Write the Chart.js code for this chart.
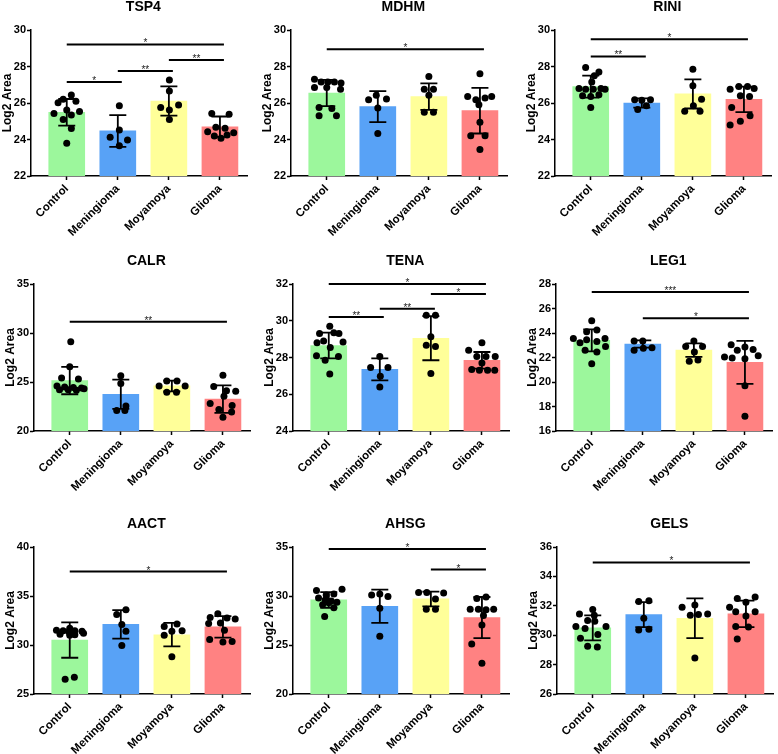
<!DOCTYPE html>
<html>
<head>
<meta charset="utf-8">
<script src="https://cdn.jsdelivr.net/npm/chart.js@4.4.1/dist/chart.umd.min.js"></script>
<style>
  html, body { margin: 0; padding: 0; background: #fff; width: 778px; height: 754px; overflow: hidden; position: relative; }
  canvas { position: absolute; }
</style>
</head>
<body>
<script>
// ---- data ----
const groups = ['Control', 'Meningioma', 'Moyamoya', 'Glioma'];
const proteins = ['TSP4', 'MDHM', 'RINI', 'CALR', 'TENA', 'LEG1', 'AACT', 'AHSG', 'GELS'];

const yMin  = [22, 22, 22, 20, 24, 16, 25, 20, 26];
const yMax  = [30, 30, 30, 35, 32, 28, 40, 35, 36];
const yStep = [2, 2, 2, 5, 2, 2, 5, 5, 2];

// mean and SD per group (Control, Meningioma, Moyamoya, Glioma)
const means = [
  [25.49, 24.47, 26.11, 24.7],
  [26.55, 25.8, 26.35, 25.58],
  [26.9, 26.0, 26.5, 26.2],
  [25.15, 23.75, 24.6, 23.25],
  [28.65, 27.35, 29.05, 27.85],
  [23.4, 23.1, 22.6, 21.6],
  [30.5, 32.1, 31.05, 31.85],
  [29.6, 28.95, 29.7, 27.8],
  [30.5, 31.4, 31.15, 31.45]
];
const sds = [
  [0.73, 0.87, 0.8, 0.56],
  [0.72, 0.85, 0.73, 1.25],
  [0.6, 0.25, 0.8, 0.7],
  [1.4, 1.5, 0.55, 1.4],
  [0.7, 0.6, 1.2, 0.45],
  [0.9, 0.3, 0.55, 1.75],
  [1.8, 1.45, 1.2, 1.1],
  [0.8, 1.7, 0.75, 2.1],
  [0.85, 0.85, 1.35, 0.9]
];

// individual samples: [horizontal scatter offset, value]
const samples = [
  [ // TSP4
    [[0.09,26.44],[-0.07,26.2],[-0.17,26.02],[0.18,26.1],[-0.25,25.43],[0.25,25.53],[0,25.62],[0.09,25.34],[-0.07,25.1],[0.09,24.6],[0,23.79]],
    [[0.03,25.85],[-0.15,24.12],[0.19,23.97],[0.03,24.52],[0.03,23.66]],
    [[0.01,27.26],[0.01,26.66],[-0.16,25.76],[0.19,25.89],[0.01,25.62],[0.01,25.1]],
    [[-0.16,25.43],[0.18,25.38],[-0.24,24.43],[-0.08,24.67],[0.1,24.61],[0.27,24.37],[-0.11,24.19],[0.02,24.07],[0.14,24.25]]
  ],
  [ // MDHM
    [[-0.24,27.3],[-0.11,27.15],[0.02,27.15],[0.15,27.15],[0.28,27.1],[-0.24,26.85],[0,26.85],[0.27,26.75],[-0.15,25.75],[0.1,25.7],[-0.15,25.3],[0.19,25.3]],
    [[-0.03,26.42],[-0.18,26.18],[0.17,26.22],[0,25.73],[0,24.33]],
    [[0,27.45],[-0.09,26.76],[0.09,26.76],[0,26.42],[-0.09,25.5],[0.09,25.5]],
    [[0,27.6],[-0.24,26.36],[-0.08,26.18],[0.1,26.27],[0.23,26.36],[-0.02,25.9],[0,24.95],[-0.18,24.2],[0.1,24.2],[0,23.45]]
  ],
  [ // RINI
    [[-0.1,27.95],[0.16,27.7],[0.07,27.5],[0.02,27.15],[-0.23,26.8],[-0.1,26.75],[0.05,26.75],[0.2,26.8],[0.28,26.75],[-0.16,26.4],[0,26.35],[0.16,26.45],[0,25.75]],
    [[-0.14,26.18],[0,26.15],[0.17,26.18],[-0.08,25.64],[0.09,25.85]],
    [[0,27.85],[0,26.95],[0.17,26.2],[0.01,25.85],[-0.16,25.55],[0.14,25.55]],
    [[-0.27,26.75],[-0.1,26.9],[0.07,26.9],[0.2,26.8],[-0.07,26.4],[0.11,26.35],[-0.24,25.75],[0.12,25.3],[-0.07,25.0],[-0.27,24.8]]
  ],
  [ // CALR
    [[0.02,29.1],[0,26.55],[-0.16,25.4],[0.17,25.3],[-0.25,24.6],[-0.1,24.5],[0.07,24.45],[0.23,24.4],[-0.2,24.2],[-0.03,24.2],[0.13,24.15],[0.28,24.3]],
    [[0,25.65],[0,24.85],[0.1,22.55],[-0.08,22.1],[0.08,22.1]],
    [[-0.1,25.1],[0.1,25.1],[-0.25,24.6],[0.26,24.6],[-0.1,23.95],[0.09,23.95]],
    [[0,25.7],[-0.18,24.55],[0.07,24.1],[0.25,24.05],[0.02,23.55],[-0.25,22.8],[0.18,22.6],[-0.08,22.2],[0.17,21.95],[0,21.4]]
  ],
  [ // TENA
    [[0.02,29.7],[-0.18,29.3],[0.1,29.35],[0.2,29.3],[-0.1,28.9],[-0.23,28.8],[0.28,28.85],[0.03,28.55],[-0.24,28.1],[0.19,28.05],[-0.07,27.85],[0.02,27.1]],
    [[0,28.05],[-0.18,27.45],[0.16,27.45],[0.01,26.98],[0,26.4]],
    [[-0.09,30.3],[0.09,30.3],[0,29.13],[-0.09,28.67],[0.09,28.6],[0,27.13]],
    [[0,28.8],[-0.26,28.4],[-0.1,28.05],[0.08,28.05],[0.26,28.05],[-0.2,27.35],[-0.05,27.3],[0.11,27.3],[0.25,27.3],[0,27.7]]
  ],
  [ // LEG1
    [[0,25.0],[0.1,24.25],[-0.1,24.1],[-0.36,23.55],[0.26,23.55],[-0.1,23.45],[-0.23,23.2],[0.1,23.3],[0.27,22.9],[-0.13,22.6],[0.1,22.45],[0,21.5]],
    [[-0.17,23.35],[0,23.35],[-0.17,22.6],[0.01,22.75],[0.18,22.8]],
    [[0,23.35],[-0.16,22.9],[0.17,22.9],[0.01,22.45],[-0.09,21.7],[0.08,21.8]],
    [[-0.27,23.05],[0,22.85],[0.16,22.65],[-0.15,22.6],[0.26,22.15],[-0.4,22.05],[-0.25,21.95],[0,21.9],[0,19.7],[0,17.2]]
  ],
  [ // AACT
    [[0,31.7],[-0.26,31.5],[-0.13,31.45],[0.1,31.45],[0.24,31.4],[-0.02,31.35],[-0.19,31.1],[0.1,31.05],[0.27,31.2],[0,31.0],[-0.09,26.5],[0.09,26.7]],
    [[0.1,33.6],[-0.08,33.1],[0.02,32.1],[0.1,31.4],[0.02,29.95]],
    [[0.1,32.15],[-0.15,31.9],[0,31.4],[0.2,31.45],[-0.15,31.0],[0,28.8]],
    [[-0.1,33.2],[-0.25,32.8],[0.08,32.75],[0.24,32.65],[-0.28,32.2],[-0.05,32.25],[0.03,31.5],[-0.26,30.55],[0,30.3],[0.18,30.35]]
  ],
  [ // AHSG
    [[-0.24,30.55],[0.26,30.7],[0.1,30.2],[-0.05,30.1],[-0.2,29.8],[-0.07,29.6],[0.05,29.5],[0.16,29.35],[0,29.3],[-0.12,29.1],[0.1,28.8],[-0.08,27.9]],
    [[-0.16,30.1],[0,30.2],[0.16,29.95],[0,28.75],[0,25.9]],
    [[-0.24,30.35],[-0.08,30.35],[0.25,30.3],[0.09,29.7],[-0.09,28.65],[0.09,28.65]],
    [[0.08,29.9],[-0.1,29.75],[-0.23,28.65],[-0.07,28.65],[0.23,28.65],[0.08,28.6],[0.03,28.0],[0,27.05],[-0.2,25.1],[0,23.15]]
  ],
  [ // GELS
    [[0,31.75],[-0.26,31.45],[0.03,31.35],[0.04,30.95],[-0.1,31.0],[0.26,30.6],[-0.33,30.6],[-0.15,30.45],[0.1,30.05],[-0.24,29.8],[-0.1,29.25],[0.09,29.2]],
    [[-0.1,32.3],[0.1,32.35],[0,31.15],[-0.1,30.35],[0.1,30.4]],
    [[0,32.05],[-0.25,31.9],[0.07,31.4],[-0.09,31.35],[0.25,31.45],[0,28.45]],
    [[0.18,32.6],[-0.17,32.5],[0,32.25],[-0.32,31.9],[-0.2,31.6],[0.18,31.6],[0,31.3],[-0.2,30.6],[0.05,30.55],[-0.17,29.75]]
  ]
];

// significance brackets: [from group, to group, height, label]
const brackets = [
  [[0,3,29.21,'*'], [0,1,27.15,'*'], [1,2,27.75,'**'], [2,3,28.36,'**']],
  [[0,3,28.95,'*']],
  [[0,3,29.5,'*'], [0,1,28.55,'**']],
  [[0,3,31.15,'**']],
  [[0,3,32.0,'*'], [2,3,31.45,'*'], [1,2,30.65,'**'], [0,1,30.2,'**']],
  [[0,3,27.35,'***'], [1,3,25.2,'*']],
  [[0,3,37.5,'*']],
  [[0,3,34.8,'*'], [2,3,32.7,'*']],
  [[0,3,34.95,'*']]
];

// ---- layout / style ----
const barColors = ['#9cf79c', '#58a2f6', '#ffff99', '#ff8282'];
const plotLeft = [31, 291, 555, 34, 293, 556, 34, 293, 557];
const plotTop = [30, 284, 547];
const plotBottom = [176, 431, 694];
const axisW = 34, padTop = 40, padRight = 12, xAxisH = 75, plotW = 216;

Chart.defaults.font.family = "Arial, 'Liberation Sans', sans-serif";
Chart.defaults.color = '#000';

const extras = {
  id: 'extras',
  afterDatasetsDraw(chart, args, opts) {
    const p = opts.panel;
    const { ctx, scales: { x, y } } = chart;
    ctx.save();
    ctx.strokeStyle = '#000';
    ctx.lineWidth = 1.8;
    means[p].forEach((m, g) => {
      const px = x.getPixelForValue(g);
      const t = y.getPixelForValue(m + sds[p][g]);
      const b = y.getPixelForValue(m - sds[p][g]);
      ctx.beginPath();
      ctx.moveTo(px, t); ctx.lineTo(px, b);
      ctx.moveTo(px - 8.5, t); ctx.lineTo(px + 8.5, t);
      ctx.moveTo(px - 8.5, b); ctx.lineTo(px + 8.5, b);
      ctx.stroke();
    });
    ctx.lineWidth = 2;
    ctx.fillStyle = '#222';
    ctx.font = "10px Arial, 'Liberation Sans', sans-serif";
    ctx.textAlign = 'center';
    ctx.textBaseline = 'alphabetic';
    brackets[p].forEach(([a, b, v, lab]) => {
      const x1 = x.getPixelForValue(a), x2 = x.getPixelForValue(b) + 4;
      const py = y.getPixelForValue(v);
      ctx.beginPath();
      ctx.moveTo(x1, py); ctx.lineTo(x2, py);
      ctx.stroke();
      ctx.fillText(lab, (x1 + x2) / 2, py + 2);
    });
    ctx.fillStyle = '#000';
    ctx.font = "bold 14px Arial, 'Liberation Sans', sans-serif";
    ctx.textBaseline = 'middle';
    ctx.fillText(proteins[p], x.getPixelForValue(1.5), chart.chartArea.top - 23);
    ctx.restore();
  }
};

proteins.forEach((name, p) => {
  const row = Math.floor(p / 3);
  const cv = document.createElement('canvas');
  const w = axisW + plotW + padRight;
  const h = padTop + (plotBottom[row] - plotTop[row]) + xAxisH;
  cv.width = w; cv.height = h;
  cv.style.left = (plotLeft[p] - axisW) + 'px';
  cv.style.top = (plotTop[row] - padTop) + 'px';
  cv.style.width = w + 'px'; cv.style.height = h + 'px';
  document.body.appendChild(cv);

  const pts = [];
  samples[p].forEach((grp, g) => grp.forEach(([dx, v]) => pts.push({ x: g + dx, y: v })));

  new Chart(cv, {
    type: 'bar',
    data: {
      datasets: [
        { type: 'scatter', data: pts, backgroundColor: '#000', pointRadius: 3.5, pointBorderWidth: 0, order: 0 },
        { type: 'bar', data: means[p].map((m, g) => ({ x: g, y: m })), backgroundColor: barColors, barThickness: 36, order: 1 }
      ]
    },
    options: {
      responsive: false,
      animation: false,
      devicePixelRatio: 1,
      layout: { padding: { left: 0, top: padTop, right: padRight, bottom: 0 } },
      plugins: { legend: { display: false }, tooltip: { enabled: false }, extras: { panel: p } },
      scales: {
        x: {
          type: 'linear', min: -0.7, max: 3.53, offset: false,
          afterBuildTicks: s => { s.ticks = groups.map((_, i) => ({ value: i })); },
          afterFit: s => { s.height = xAxisH; },
          ticks: { callback: v => groups[v], minRotation: 45, maxRotation: 45, autoSkip: false, padding: 2, font: { size: 11.5, weight: 'bold' } },
          grid: { offset: false, drawOnChartArea: false, tickLength: 4, tickWidth: 1.5, tickColor: '#000' },
          border: { color: '#000', width: 1.5 }
        },
        y: {
          min: yMin[p], max: yMax[p],
          afterFit: s => { s.width = axisW; },
          ticks: { stepSize: yStep[p], padding: 1, font: { size: 11, weight: 'bold' } },
          title: { display: true, text: 'Log2 Area', padding: { top: 3, bottom: 0 },
                   font: { family: "'Liberation Sans Narrow', 'Arial Narrow', Arial, sans-serif", size: 12, weight: 'bold' } },
          grid: { drawOnChartArea: false, tickLength: 4, tickWidth: 1.5, tickColor: '#000' },
          border: { color: '#000', width: 1.5 }
        }
      }
    },
    plugins: [extras]
  });
});
</script>
</body>
</html>
